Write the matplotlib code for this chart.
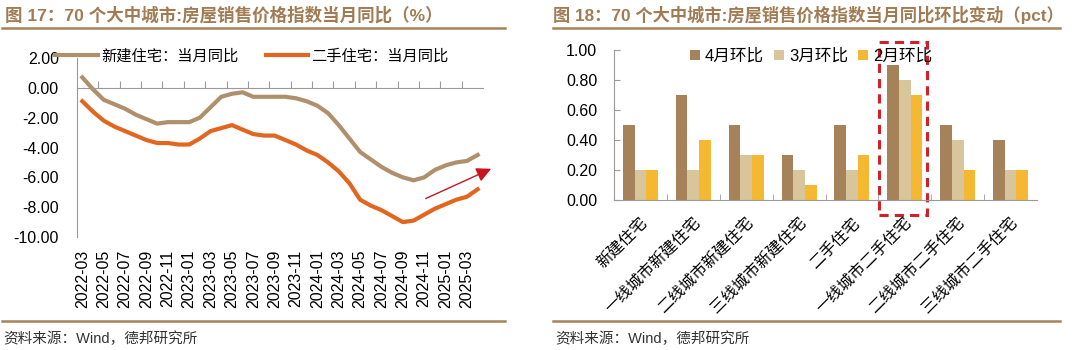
import matplotlib
matplotlib.use("Agg")
import matplotlib.pyplot as plt
from matplotlib.patches import Rectangle
from matplotlib.lines import Line2D
import numpy as np

plt.rcParams['font.family'] = ['Liberation Sans', 'Noto Sans CJK SC']
plt.rcParams['axes.unicode_minus'] = False

# left chart: monthly YoY, 2022-03 .. 2025-04
months = []
for y in range(2022, 2026):
    for m in range(1, 13):
        if (y == 2022 and m < 3) or (y == 2025 and m > 4):
            continue
        months.append(f"{y}-{m:02d}")

new_yoy = [0.7, -0.1, -0.8, -1.1, -1.4, -1.8, -2.1, -2.4, -2.3, -2.3,
           -2.3, -2.0, -1.3, -0.6, -0.4, -0.3, -0.6, -0.6, -0.6, -0.6,
           -0.7, -0.9, -1.2, -1.7, -2.5, -3.4, -4.3, -4.8, -5.3, -5.7,
           -6.0, -6.2, -6.0, -5.5, -5.2, -5.0, -4.9, -4.5]
used_yoy = [-0.9, -1.6, -2.2, -2.6, -2.9, -3.2, -3.5, -3.7, -3.7, -3.8,
            -3.8, -3.4, -2.9, -2.7, -2.5, -2.8, -3.1, -3.2, -3.2, -3.5,
            -3.8, -4.2, -4.5, -5.0, -5.6, -6.4, -7.5, -7.9, -8.2, -8.6,
            -9.0, -8.9, -8.5, -8.1, -7.8, -7.5, -7.3, -6.8]

# right chart: MoM change by category
cats = ['新建住宅', '一线城市新建住宅', '二线城市新建住宅', '三线城市新建住宅',
        '二手住宅', '一线城市二手住宅', '二线城市二手住宅', '三线城市二手住宅']
apr = [0.5, 0.7, 0.5, 0.3, 0.5, 0.9, 0.5, 0.4]
mar = [0.2, 0.2, 0.3, 0.2, 0.2, 0.8, 0.4, 0.2]
feb = [0.2, 0.4, 0.3, 0.1, 0.3, 0.7, 0.2, 0.2]

brown_title = '#A07C55'
grey = '#9A9A9A'

fig = plt.figure(figsize=(10.8, 3.5), dpi=100)

# ---- titles, rules and sources
fig.text(5/1080, 1-15/350, '图 17：70 个大中城市:房屋销售价格指数当月同比（%）',
         fontsize=12.6, fontweight='bold', color=brown_title, va='center')
fig.text(553/1080, 1-15/350, '图 18：70 个大中城市:房屋销售价格指数当月同比环比变动（pct）',
         fontsize=12.4, fontweight='bold', color=brown_title, va='center')
for x0, x1 in [(2, 505), (553, 1060)]:
    for yy in (28, 321):
        fig.add_artist(Line2D([x0/1080, x1/1080], [1-yy/350]*2, color='#A8825A', lw=1.8))
fig.text(3/1080, 1-339/350, '资料来源：Wind，德邦研究所', fontsize=10.5, color='#333333', va='center')
fig.text(555/1080, 1-339/350, '资料来源：Wind，德邦研究所', fontsize=10.5, color='#333333', va='center')

# ---- left chart
ax = fig.add_axes([77/1080, 1-237/350, (483-77)/1080, (237-58)/350])
x = np.arange(len(months))
ax.plot(x, new_yoy, color='#B0906C', lw=3, label='新建住宅：当月同比')
ax.plot(x, used_yoy, color='#E2661E', lw=3, label='二手住宅：当月同比')
ax.set_xlim(-0.5, len(months)-0.5)
ax.set_ylim(-10, 2)
ax.set_yticks(np.arange(-10, 2.1, 2))
ax.set_yticklabels([f"{v:.2f}" for v in np.arange(-10, 2.1, 2)], fontsize=11.5)
for s in ('top', 'right'):
    ax.spines[s].set_visible(False)
ax.spines['bottom'].set_position(('data', 0))
ax.spines['bottom'].set_color(grey)
ax.spines['left'].set_color(grey)
ax.set_xticks(np.arange(1.5, len(months)-0.5, 2))
ax.tick_params(axis='x', direction='in', length=5, color=grey, labelbottom=False)
ax.tick_params(axis='y', direction='in', length=0, color=grey, pad=13)
sec = ax.secondary_xaxis('bottom')
sec.set_xticks(x[::2])
sec.set_xticklabels(months[::2], rotation=90, fontsize=11.5)
sec.tick_params(length=0, pad=9)
sec.spines['bottom'].set_visible(False)
ax.annotate('', xy=(38.5, -5.35), xytext=(31.9, -7.5),
            arrowprops=dict(arrowstyle='-|>', color='#C8141E', lw=1, mutation_scale=22),
            annotation_clip=False)
ax.legend(loc='center left', bbox_to_anchor=(55/1080, 1-56/350),
          bbox_transform=fig.transFigure, ncol=2, frameon=False, fontsize=11,
          handlelength=2.8, handletextpad=0.2, columnspacing=1.8,
          borderaxespad=0, borderpad=0)

# ---- right chart
bx = fig.add_axes([614/1080, 1-200/350, (1037-614)/1080, 150/350])
cx = np.arange(len(cats))
w = 0.22
bx.bar(cx - w, apr, w, color='#A6825A', label='4月环比')
bx.bar(cx, mar, w, color='#D8C59C', label='3月环比')
bx.bar(cx + w, feb, w, color='#F4B833', label='2月环比')
bx.set_xlim(-0.5, len(cats)-0.5)
bx.set_ylim(0, 1)
bx.set_yticks(np.arange(0, 1.01, 0.2))
bx.set_yticklabels([f"{v:.2f}" for v in np.arange(0, 1.01, 0.2)], fontsize=11.5)
for s in ('top', 'right'):
    bx.spines[s].set_visible(False)
bx.spines['bottom'].set_color(grey)
bx.spines['left'].set_color(grey)
bx.tick_params(axis='y', direction='in', length=4, color=grey, pad=12)
bx.set_xticks(cx)
bx.set_xticklabels(cats, rotation=45, ha='right', rotation_mode='anchor', fontsize=11.5)
bx.tick_params(axis='x', length=0, pad=11)
bx.set_xticks(np.arange(0.5, len(cats)-0.5, 1), minor=True)
bx.tick_params(axis='x', which='minor', direction='in', length=4, color=grey)
bx.add_patch(Rectangle((4.51, -0.1), 0.91, 1.155, fill=False, ec='#D02028',
                       lw=2.2, ls=(0, (3, 2)), clip_on=False))
bx.legend(loc='center left', bbox_to_anchor=(690/1080, 1-56/350),
          bbox_transform=fig.transFigure, ncol=3, frameon=False, fontsize=12,
          handlelength=0.6, handleheight=0.6, handletextpad=0.3, columnspacing=0.6,
          borderaxespad=0, borderpad=0)

fig.savefig('out.png', dpi=100)
